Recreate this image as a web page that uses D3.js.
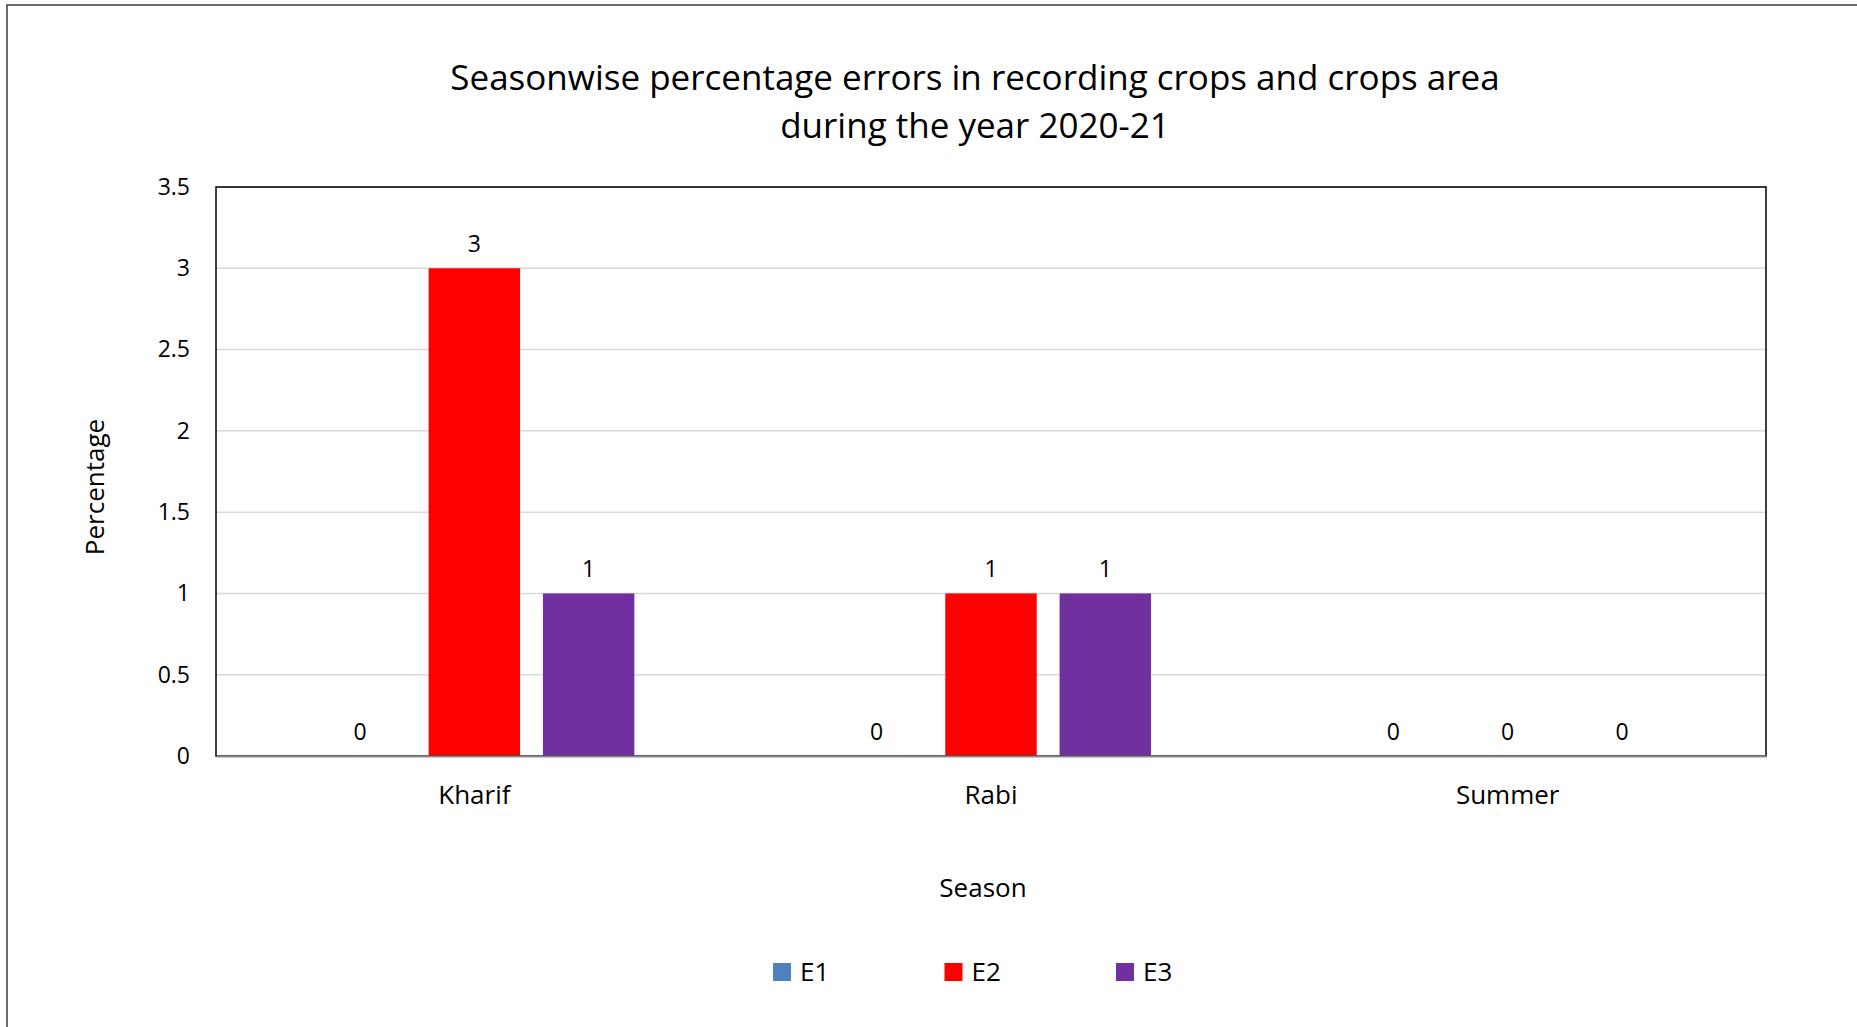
<!DOCTYPE html>
<html>
<head>
<meta charset="utf-8">
<script src="https://cdn.jsdelivr.net/npm/d3@7"></script>
<style>
  body { margin: 0; background: #fff; }
  svg { display: block; font-family: "Open Sans", sans-serif; }
</style>
</head>
<body>
<svg width="1857" height="1027"></svg>
<script>
// chart data
const seasons = ['Kharif', 'Rabi', 'Summer'];
const seriesNames = ['E1', 'E2', 'E3'];
const e1 = [0, 0, 0];
const e2 = [3, 1, 0];
const e3 = [1, 1, 0];
const yTicks = [0, 0.5, 1, 1.5, 2, 2.5, 3, 3.5];
const colors = ['#4f81bd', '#ff0000', '#7030a0'];
const titleLines = ['Seasonwise percentage errors in recording crops and crops area', 'during the year 2020-21'];

const values = [e1, e2, e3];
const rows = seasons.map((s, i) => ({season: s, vals: seriesNames.map((k, j) => ({key: k, value: values[j][i]}))}));

const svg = d3.select('svg');
const plot = {left: 216, right: 1766, top: 187, bottom: 756};

// outer chart border (runs off the right and bottom edge)
svg.append('rect')
  .attr('x', 7).attr('y', 5)
  .attr('width', 1900).attr('height', 1100)
  .attr('fill', 'none')
  .attr('stroke', '#3c3c3c')
  .attr('stroke-width', 1.5);

const x0 = d3.scaleBand()
  .domain(seasons)
  .range([plot.left, plot.right]);

const x1 = d3.scaleBand()
  .domain(seriesNames)
  .range([0, x0.bandwidth()])
  .paddingInner(0.2)
  .paddingOuter(0.86);

const y = d3.scaleLinear()
  .domain([0, 3.5])
  .range([plot.bottom, plot.top]);

const color = d3.scaleOrdinal().domain(seriesNames).range(colors);

// gridlines
svg.append('g')
  .selectAll('line')
  .data(yTicks.slice(1))
  .join('line')
    .attr('x1', plot.left).attr('x2', plot.right)
    .attr('y1', d => y(d)).attr('y2', d => y(d))
    .attr('stroke', '#d9d9d9')
    .attr('stroke-width', 1.5);

// bars
const groups = svg.append('g')
  .selectAll('g')
  .data(rows)
  .join('g')
    .attr('transform', d => `translate(${x0(d.season)},0)`);

groups.selectAll('rect')
  .data(d => d.vals)
  .join('rect')
    .attr('x', d => x1(d.key))
    .attr('y', d => y(d.value))
    .attr('width', x1.bandwidth())
    .attr('height', d => y(0) - y(d.value))
    .attr('fill', d => color(d.key));

groups.selectAll('text')
  .data(d => d.vals)
  .join('text')
    .attr('x', d => x1(d.key) + x1.bandwidth() / 2)
    .attr('y', d => y(d.value) - 16)
    .attr('text-anchor', 'middle')
    .attr('font-size', 23)
    .attr('fill', '#000')
    .text(d => d.value);

// plot frame
svg.append('rect')
  .attr('x', plot.left).attr('y', plot.top)
  .attr('width', plot.right - plot.left)
  .attr('height', plot.bottom - plot.top)
  .attr('fill', 'none')
  .attr('stroke', '#000')
  .attr('stroke-width', 1.5);

// y axis
const yAxis = svg.append('g')
  .attr('transform', `translate(${plot.left},0)`)
  .call(d3.axisLeft(y).tickValues(yTicks).tickFormat(d3.format('')).tickSize(0).tickPadding(26));
yAxis.select('.domain').remove();
yAxis.selectAll('text').attr('font-size', 23).attr('font-family', 'Open Sans').attr('fill', '#000');

// x axis
const xAxis = svg.append('g')
  .attr('transform', `translate(0,${plot.bottom})`)
  .call(d3.axisBottom(x0).tickSize(0).tickPadding(30));
xAxis.select('.domain').attr('stroke', '#8c8c8c').attr('stroke-width', 2);
xAxis.selectAll('text').attr('font-size', 26).attr('font-family', 'Open Sans').attr('fill', '#000');

// title
svg.append('text')
  .attr('text-anchor', 'middle')
  .attr('font-size', 35)
  .selectAll('tspan')
  .data(titleLines)
  .join('tspan')
    .attr('x', 975)
    .attr('y', (d, i) => 90 + i * 48)
    .text(d => d);

// axis titles
svg.append('text')
  .attr('x', 983).attr('y', 897)
  .attr('text-anchor', 'middle')
  .attr('font-size', 26)
  .text('Season');

svg.append('text')
  .attr('transform', 'translate(104,487) rotate(-90)')
  .attr('text-anchor', 'middle')
  .attr('font-size', 26)
  .text('Percentage');

// legend
const legendX = d3.scalePoint().domain(seriesNames).range([773, 1116]);
const legend = svg.append('g')
  .selectAll('g')
  .data(seriesNames)
  .join('g')
    .attr('transform', d => `translate(${legendX(d)},963)`);
legend.append('rect')
  .attr('width', 18).attr('height', 18)
  .attr('fill', d => color(d));
legend.append('text')
  .attr('x', 27).attr('y', 18)
  .attr('font-size', 26)
  .text(d => d);
</script>
</body>
</html>
